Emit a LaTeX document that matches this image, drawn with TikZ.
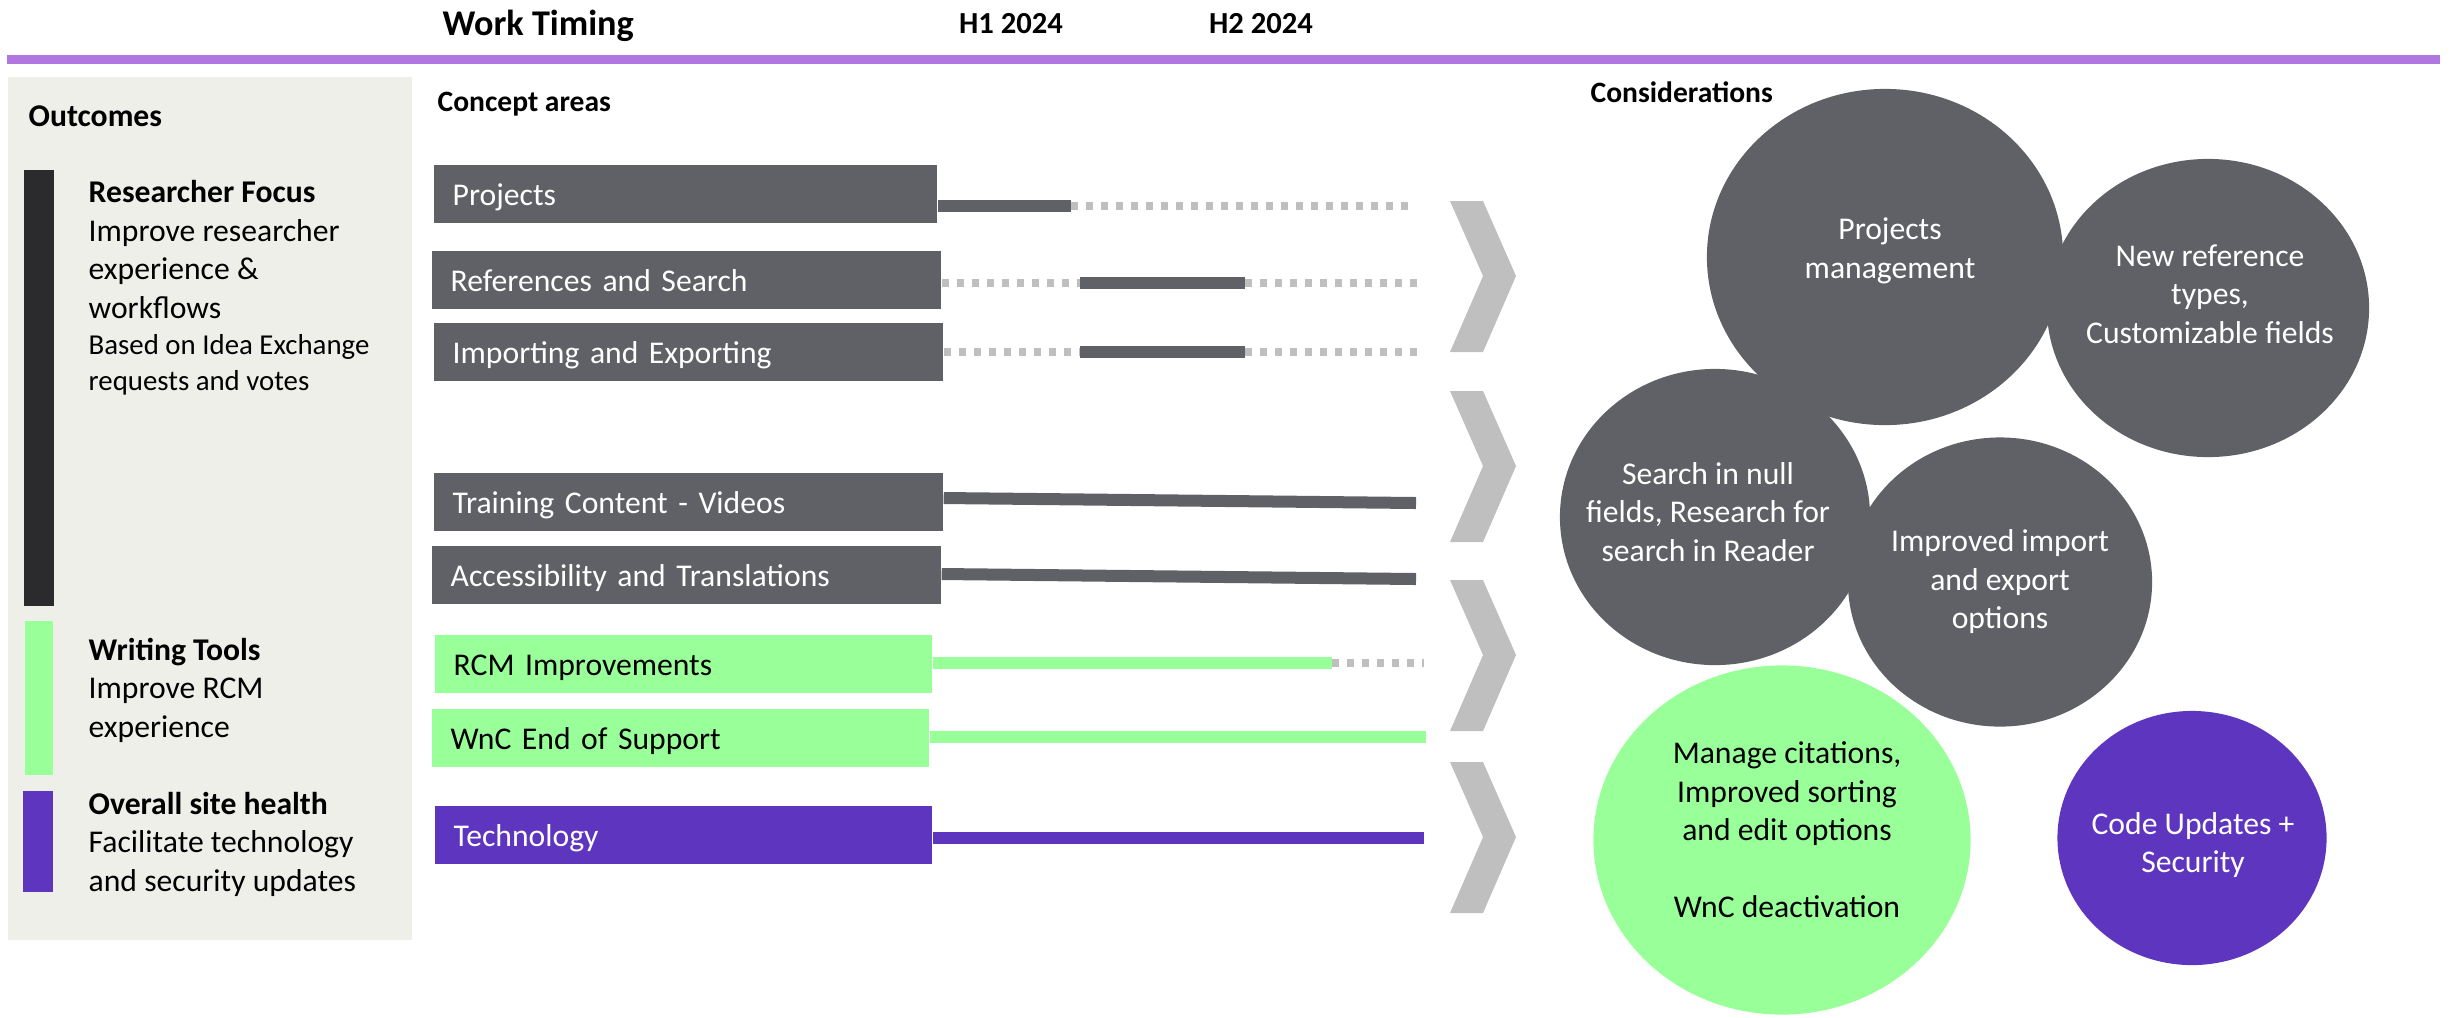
\documentclass[tikz,border=0pt]{standalone}
\usepackage{fontspec}
\setmainfont{Carlito}
\usetikzlibrary{shapes.geometric}
\definecolor{slate}{HTML}{5F6166}
\definecolor{mint}{HTML}{99FF99}
\definecolor{grape}{HTML}{5D35BF}
\definecolor{ink}{HTML}{2B2B2D}
\definecolor{chev}{HTML}{BFBFBF}
\definecolor{panel}{HTML}{EFEFEA}
\definecolor{rule}{HTML}{B077E0}
\begin{document}
\begin{tikzpicture}[x=0.01cm,y=-0.01cm,
  txt/.style={font=\fontsize{9}{10.95}\selectfont,inner sep=0,align=left,anchor=base west},
  head/.style={font=\bfseries\fontsize{8.4}{10}\selectfont,inner sep=0,anchor=base west},
  area/.style={fill=slate,text=white,anchor=west,inner xsep=0.19cm,inner ysep=0,align=left,
    minimum height=0.58cm,text width=4.71cm,text height=0.22cm,text depth=0cm,font=\fontsize{9}{11}\selectfont},
  wtool/.style={area,fill=mint,text=black,text width=4.59cm},
  tech/.style={area,fill=grape,text width=4.59cm},
  bubble/.style={ellipse,fill=slate,inner sep=0},
  btxt/.style={text=white,inner sep=0,align=center,font=\fontsize{9}{10.95}\selectfont},
  bar/.style={line width=0.12cm},
  dots/.style={chev,line width=0.075cm,dash pattern=on 0.07cm off 0.08cm}]
\useasboundingbox (0,0) rectangle (2458,1017);

\node[head,font=\bfseries\fontsize{10.3}{12}\selectfont] (wtime) at (442,35) {Work Timing};
\node[head,anchor=base,font=\bfseries\fontsize{8.7}{10}\selectfont] (h1) at (1011,33) {H1 2024};
\node[head,anchor=base,font=\bfseries\fontsize{8.7}{10}\selectfont] (h2) at (1261,33) {H2 2024};
\fill[rule] (7,55) rectangle (2440,64);

\fill[panel] (8,77) rectangle (412,940);
\node[head,font=\bfseries\fontsize{9}{10}\selectfont] (outc) at (28,126) {Outcomes};
\fill[ink] (24,170) rectangle (54,606);
\fill[mint] (25,621) rectangle (53,775);
\fill[grape] (23,791) rectangle (53,892);
\node[txt] (rfocus) at (88,318) {\textbf{Researcher Focus}\\Improve researcher\\experience \&\\workflows};
\node[txt,font=\fontsize{8.2}{10.1}\selectfont] (ideas) at (88,390) {Based on Idea Exchange\\requests and votes};
\node[txt] (wtools) at (88,737) {\textbf{Writing Tools}\\Improve RCM\\experience};
\node[txt] (health) at (88,891) {\textbf{Overall site health}\\Facilitate technology\\and security updates};

\node[head] (careas) at (437,111) {Concept areas};
\node[area,text width=4.65cm] (pj) at (433,194) {Projects};
\node[area] (rs) at (431,280) {References and Search};
\node[area] (ix) at (433,352) {Importing and Exporting};
\node[area] (tv) at (433,502) {Training Content - Videos};
\node[area] (at) at (431,575) {Accessibility and Translations};
\node[wtool] (rcm) at (434,664) {RCM Improvements};
\node[wtool] (wnc) at (431,738) {WnC End of Support};
\node[tech] (tec) at (434,835) {Technology};

\coordinate (pj1) at (1071,206); \coordinate (pj2) at (1412,206);
\draw[bar,slate] (pj.east |- pj1) -- (pj1);
\draw[dots] (pj1) -- (pj2);
\coordinate (rs1) at (1080,283); \coordinate (rs2) at (1245,283); \coordinate (rs3) at (1425,283);
\draw[dots] (rs.east |- rs1) -- (rs1);
\draw[bar,slate] (rs1) -- (rs2);
\draw[dots] (rs2) -- (rs3);
\coordinate (ix1) at (1080,352); \coordinate (ix2) at (1245,352); \coordinate (ix3) at (1425,352);
\draw[dots] (ix.east |- ix1) -- (ix1);
\draw[bar,slate] (ix1) -- (ix2);
\draw[dots] (ix2) -- (ix3);
\coordinate (tv1) at (1416,503);
\draw[bar,slate] (tv.east |- 0,498) -- (tv1);
\coordinate (at1) at (1416,579);
\draw[bar,slate] (at.east |- 0,574) -- (at1);
\coordinate (rcm1) at (1332,663); \coordinate (rcm2) at (1424,663);
\draw[bar,mint] (rcm.east |- rcm1) -- (rcm1);
\draw[dots] (rcm1) -- (rcm2);
\coordinate (wnc1) at (1426,737);
\draw[bar,mint] (wnc.east |- wnc1) -- (wnc1);
\coordinate (tec1) at (1424,838);
\draw[bar,grape] (tec.east |- tec1) -- (tec1);

\foreach \t in {201,391,580,762}
  \fill[chev] (1450,\t) -- (1483,\t) -- (1516,\t+75) -- (1483,\t+151) -- (1450,\t+151) -- (1483,\t+75) -- cycle;

\node[head] (consid) at (1590,102) {Considerations};
\node[bubble,minimum width=3.56cm,minimum height=3.36cm] (pm) at (1885,257) {};
\node[bubble,minimum width=3.22cm,minimum height=2.98cm] (nr) at (2208,308) {};
\node[bubble,minimum width=3.10cm,minimum height=2.96cm] (sn) at (1715,517) {};
\node[bubble,minimum width=3.04cm,minimum height=2.89cm] (iex) at (2000,582) {};
\node[bubble,fill=mint,minimum width=3.77cm,minimum height=3.49cm] (mc) at (1782,840) {};
\node[bubble,fill=grape,minimum width=2.69cm,minimum height=2.54cm] (cs) at (2192,838) {};
\node[btxt] (pmt) at (1890,251) {Projects\\management};
\node[btxt] (nrt) at (2210,294) {New reference\\types,\\Customizable fields};
\node[btxt] (snt) at (1708,512) {Search in null\\fields, Research for\\search in Reader};
\node[btxt] (iext) at (2000,582) {Improved import\\and export\\options};
\node[btxt,text=black] (mct) at (1787,830) {Manage citations,\\Improved sorting\\and edit options\\[10.95pt]WnC deactivation};
\node[btxt] (cst) at (2193,845) {Code Updates +\\Security};
\end{tikzpicture}
\end{document}
